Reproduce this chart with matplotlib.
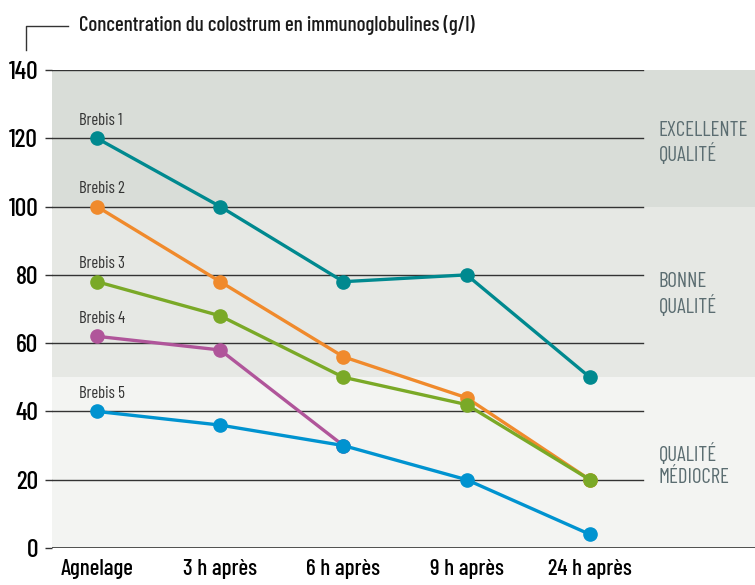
import matplotlib.pyplot as plt
from matplotlib.lines import Line2D

plt.rcParams['font.family'] = ['Barlow Condensed', 'Roboto Condensed', 'DejaVu Sans']

moments = ["Agnelage", "3 h après", "6 h après", "9 h après", "24 h après"]
brebis = ["Brebis 1", "Brebis 2", "Brebis 3", "Brebis 4", "Brebis 5"]
b1 = [120, 100, 78, 80, 50]
b2 = [100, 78, 56, 44, 20]
b3 = [78, 68, 50, 42, 20]
b4 = [62, 58, 30]
b5 = [40, 36, 30, 20, 4]
series = [b1, b2, b3, b4, b5]
colors = ["#00898f", "#f08a2c", "#7aa927", "#b0559a", "#0093d0"]
yticks = [0, 20, 40, 60, 80, 100, 120, 140]
bands = [(100, 140, "#d9ddd8", "EXCELLENTE\nQUALITÉ", 118.6),
         (50, 100, "#e6e8e4", "BONNE\nQUALITÉ", 74.2),
         (0, 50, "#f3f4f2", "QUALITÉ\nMÉDIOCRE", 24.3)]

W, H = 755, 585
fig = plt.figure(figsize=(W / 100, H / 100), dpi=100)
ax = fig.add_axes([52 / W, 1 - 548 / H, (W - 52) / W, (548 - 70) / H])
ax.set_xlim(-0.365, 5.34)
ax.set_ylim(0, 140)

for lo, hi, c, lab, ly in bands:
    ax.axhspan(lo, hi, color=c, zorder=0, lw=0)
    ax.text(4.56, ly, lab, color="#5b6d71", fontsize=15, va="center",
            ha="left", linespacing=1.2)

gx = (643 - 52) / (W - 52)
for y in yticks[1:]:
    ax.axhline(y, xmin=0, xmax=gx, color="#333333", lw=1, zorder=1)
ax.axhline(0, color="#333333", lw=1.2, zorder=1)

for s, c, name in zip(series, colors, brebis):
    ax.plot(range(len(s)), s, color=c, lw=2.4, marker="o", ms=9.5,
            zorder=3)
    ax.text(-0.145, s[0] + 4, name, fontsize=12, color="#333333",
            ha="left", va="baseline")

for sp in ax.spines.values():
    sp.set_visible(False)
ax.set_yticks(yticks)
ax.set_yticklabels([str(v) for v in yticks], fontsize=18.5, fontweight="medium")
ax.set_xticks(range(len(moments)))
ax.set_xticklabels(moments, fontsize=16.5, fontweight="medium")
ax.tick_params(axis="y", length=5, width=1, color="#333333", pad=5)
ax.tick_params(axis="x", length=0, pad=8)

fig.text(79 / W, 1 - 25 / H, "Concentration du colostrum en immunoglobulines (g/l)",
         fontsize=15, va="center", ha="left", color="#1a1a1a",
         fontweight="medium")
fig.add_artist(Line2D([26 / W, 26 / W, 68 / W],
                      [1 - 50 / H, 1 - 26 / H, 1 - 26 / H],
                      color="#333333", lw=1))

fig.savefig("out.png", dpi=100)
